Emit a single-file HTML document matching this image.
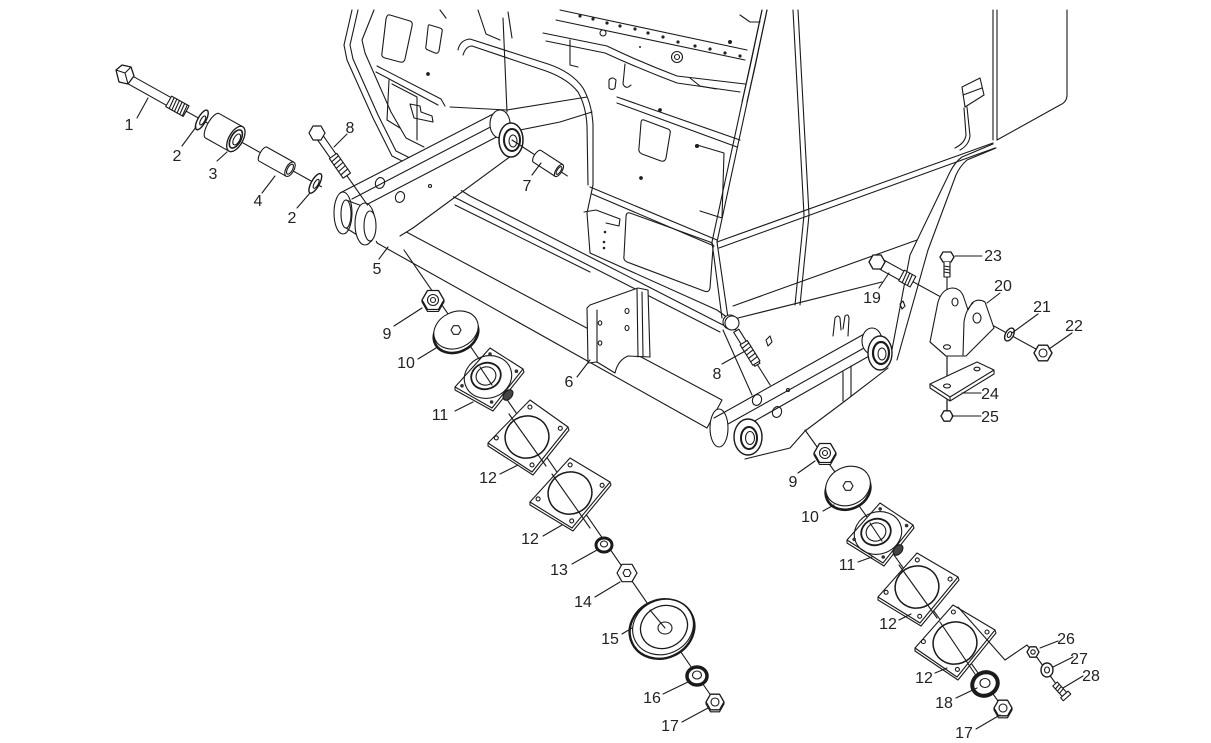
<!DOCTYPE html>
<html><head><meta charset="utf-8"><style>
html,body{margin:0;padding:0;background:#fff;}
svg{display:block}
text{font-family:"Liberation Sans",Arial,sans-serif;font-size:16px;fill:#222;text-anchor:middle}
</style></head><body>
<svg width="1211" height="743" viewBox="0 0 1211 743" xmlns="http://www.w3.org/2000/svg">
<rect width="1211" height="743" fill="#fff"/>
<g fill="none" stroke="#1a1a1a" stroke-width="1.1" stroke-linejoin="round" stroke-linecap="round">

<!-- ===== CAB BACKGROUND ===== -->
<path d="M352,10 L344,45 L347,60 L373,118 L392,156 L412,166 L440,178"/>
<path d="M358,10 L350,45 L353,59 L378,115 L396,151 L414,160"/>
<path d="M374,10 L362,40 L365,53 L391,112 L406,138 L424,147"/>
<path d="M390,15 L410,21 Q413,22 412,26 L405,59 Q404,63 400,62 L385,58 Q381,57 382,53 L386,19 Q387,14 390,15 Z"/>
<path d="M430,25 L440,28 Q443,29 442,32 L439,51 Q438,54 435,53 L428,50 Q425,49 426,46 L428,28 Q428,24 430,25 Z"/>
<path d="M377,66 L441,99 L445,106"/>
<path d="M376,72 L438,105"/>
<path d="M389,80 L387,120 L400,128"/>
<path d="M392,84 L417,97 L417,140"/>
<path d="M410,104 L420,106 L421,112 L432,116 L433,122 L414,118 Z"/>
<circle cx="428" cy="74" r="1.3" fill="#222"/>
<path d="M440,10 L446,18"/>

<path d="M458,50 Q460,40 470,39 L548,64 Q572,72 583,88 Q592,104 593,125 L593,185"/>
<path d="M463,55 Q466,46 472,46 L546,71 Q568,79 578,92 Q586,106 587,126 L588,185"/>
<path d="M503,18 L507,112"/>
<path d="M450,107 L507,110 L587,97"/>
<path d="M520,130 Q540,126 560,122 L592,112"/>
<path d="M478,10 L486,34 L500,40"/>
<path d="M508,12 L512,38"/>
<path d="M560,10 L747,50"/>
<path d="M556,20 L745,60"/>
<g fill="#222" stroke="none">
<circle cx="580" cy="16" r="1.6"/><circle cx="593" cy="19" r="1.6"/><circle cx="607" cy="23" r="1.6"/><circle cx="620" cy="26" r="1.6"/><circle cx="635" cy="29" r="1.6"/><circle cx="648" cy="33" r="1.6"/><circle cx="663" cy="37" r="1.6"/><circle cx="678" cy="42" r="1.6"/><circle cx="695" cy="46" r="1.6"/><circle cx="710" cy="49" r="1.6"/><circle cx="725" cy="53" r="1.6"/><circle cx="740" cy="56" r="1.6"/>
<circle cx="640" cy="47" r="1"/><circle cx="730" cy="42" r="2"/>
</g>
<path d="M543,33 L607,46 Q640,62 677,76 L745,84"/>
<path d="M546,41 L605,53 Q640,69 677,83 L740,92"/>
<path d="M762,10 L750,67 L742,102"/>
<path d="M767,10 L755,67 L747,102"/>
<circle cx="677" cy="57" r="5.5"/><circle cx="677" cy="57" r="2.5"/>
<circle cx="603" cy="33" r="3"/>
<path d="M609,80 Q612,76 616,80 L615,88 Q612,91 609,88 Z"/>
<path d="M570,40 L570,65 L578,67"/>
<path d="M625,64 L623,84 Q626,90 631,85"/>
<path d="M690,78 L700,86 L716,89"/>
<path d="M740,15 L750,22 L760,22"/>

<path d="M617,97 L740,140"/>
<path d="M617,103 L737,147"/>
<path d="M644,120 L668,129 Q671,130 670,134 L666,158 Q665,162 661,161 L642,154 Q638,152 639,148 L641,123 Q641,119 644,120 Z"/>
<path d="M697,145 L724,153 L722,218 L700,211"/>
<circle cx="660" cy="110" r="1.3" fill="#222"/>
<circle cx="641" cy="178" r="1.3" fill="#222"/>
<circle cx="697" cy="146" r="1.5" fill="#222"/>
<path d="M590,187 L717,240"/>
<path d="M592,194 L714,246"/>
<path d="M593,185 L587,213 L590,253 L717,310 L728,318"/>
<path d="M630,213 L710,242 Q714,244 713,248 L710,288 Q709,293 704,291 L627,262 Q623,260 624,256 L626,217 Q626,212 630,213 Z"/>
<path d="M584,212 L596,210 L620,219 L619,226 L606,223"/>
<g fill="#222" stroke="none"><circle cx="605" cy="232" r="1.3"/><circle cx="604" cy="242" r="1.3"/><circle cx="604" cy="248" r="1.3"/></g>

<path d="M767,10 L717,242 L728,318"/>
<path d="M762,10 L712,242 L722,318"/>
<path d="M793,10 L804,215 L795,305"/>
<path d="M798,10 L809,215 L800,305"/>
<path d="M993,143 L717,242"/>
<path d="M995,148 L719,248"/>
<path d="M917,240 L733,306"/>
<path d="M993,10 L993,140"/><path d="M997,10 L997,140"/>
<path d="M1067,10 L1067,95 Q1067,102 1060,105 L997,140"/>
<path d="M962,87 L980,78 L984,95 L965,107 Z"/><path d="M963,95 L982,88"/>
<path d="M964,108 L966,135 Q965,143 955,148"/>
<path d="M967,107 L970,136 Q969,145 960,150"/>
<path d="M993,144 L962,157 Q955,162 950,172 L910,255 L890,360"/>
<path d="M996,148 L967,160 Q960,166 956,175 L928,250 L897,360"/>

<path d="M440,180 Q455,186 470,196 L600,262 L723,325"/>
<path d="M452,196 L720,332"/>
<path d="M455,205 L590,272"/>
<path d="M738,318 L882,282"/>
<path d="M723,330 L752,395"/>
<path d="M833,336 L835,318 Q838,314 840,318 L841,330 M843,329 L845,316 Q848,313 849,318 L848,336"/>
<path d="M766,340 L770,336 L772,342 L768,346 Z"/>
<path d="M900,304 L903,301 L905,306 L902,309 Z"/>
<circle cx="730" cy="322" r="7" fill="#fff"/>

<!-- ===== ROD 5 ===== -->
<path d="M365,210 L722,400 L707,428 L377,243 Z" fill="#fff"/>
<ellipse cx="369" cy="226" rx="7" ry="16" fill="#fff"/>

<!-- ===== PART 6 ===== -->
<path d="M587,308 L590,305 L638,288 L648,290 L650,357 L628,356 Q618,360 615,373 L597,362 L588,363 Z" fill="#fff"/>
<path d="M597,310 L597,362"/>
<path d="M637,289 L638,357"/>
<path d="M642,292 L643,356"/>
<ellipse cx="627" cy="311" rx="2" ry="2.5"/><ellipse cx="627" cy="328" rx="2" ry="2.5"/>
<ellipse cx="600" cy="323" rx="1.8" ry="2.2"/><ellipse cx="600" cy="343" rx="1.8" ry="2.2"/>

<!-- ===== LEFT ARM ===== -->
<path d="M338,195 L497,112 L514,118 L523,140 L413,229 L385,242 L340,236 Z" fill="#fff" stroke="none"/>
<ellipse cx="343" cy="213" rx="9" ry="21" fill="#fff"/>
<ellipse cx="346" cy="214" rx="5" ry="14"/>
<path d="M346,200 L362,206 M346,228 L362,238"/>
<path d="M340,193 L497,112"/>
<path d="M352,199 L502,121"/>
<path d="M362,207 L508,131"/>
<path d="M413,228 L515,153"/>
<path d="M400,236 L413,228"/>
<ellipse cx="380" cy="183" rx="4.5" ry="5.5" transform="rotate(20 380 183)"/>
<ellipse cx="400" cy="197" rx="4.5" ry="5.5" transform="rotate(20 400 197)"/>
<circle cx="430" cy="186" r="1.5"/>
<ellipse cx="365" cy="224" rx="10" ry="21" fill="#fff"/>
<ellipse cx="370" cy="226" rx="6" ry="15" fill="#fff"/>
<ellipse cx="500" cy="124" rx="10" ry="14" fill="#fff"/>
<ellipse cx="511" cy="140" rx="12" ry="17" fill="#fff" stroke-width="1.5"/>
<ellipse cx="512" cy="140" rx="8" ry="11" stroke-width="2"/>
<ellipse cx="513" cy="141" rx="4" ry="6"/>

<!-- ===== RIGHT ARM ===== -->
<path d="M714,420 L866,333 L885,335 L893,352 L890,368 L845,402 L805,432 L792,447 L745,460 L722,455 L712,440 Z" fill="#fff" stroke="none"/>
<ellipse cx="719" cy="428" rx="9" ry="19" fill="#fff"/>
<path d="M714,418 L866,333"/>
<path d="M728,424 L873,343"/>
<path d="M737,431 L878,351"/>
<path d="M745,459 L790,448 L805,431 L845,401 L888,368"/>
<path d="M843,372 L843,401"/><path d="M851,366 L851,396"/>
<ellipse cx="757" cy="400" rx="4.5" ry="5.5" transform="rotate(20 757 400)"/>
<ellipse cx="777" cy="412" rx="4.5" ry="5.5" transform="rotate(20 777 412)"/>
<circle cx="788" cy="390" r="1.5"/>
<ellipse cx="748" cy="437" rx="14" ry="18" fill="#fff" stroke-width="1.4"/>
<ellipse cx="749" cy="438" rx="8" ry="11" stroke-width="2"/>
<ellipse cx="750" cy="438" rx="4.5" ry="6.5"/>
<ellipse cx="872" cy="341" rx="10" ry="13" fill="#fff"/>
<ellipse cx="880" cy="353" rx="12" ry="17" fill="#fff" stroke-width="1.4"/>
<ellipse cx="881" cy="353" rx="8" ry="11" stroke-width="2.2"/>
<ellipse cx="882" cy="354" rx="4" ry="6"/>

<!-- ===== LEFT UPPER EXPLODED (1,2,3,4,2) ===== -->
<g transform="translate(125,77) rotate(29.2)">
  <line x1="0" y1="0" x2="225" y2="0"/>
  <path d="M2,-4.5 L70,-4.5 L70,4.5 L2,4.5 Z" fill="#fff"/>
  <path d="M50,-6 L70,-6 L70,6 L50,6 Z" fill="#fff"/>
  <path d="M53,-6 L54,6 M56,-6 L57,6 M59,-6 L60,6 M62,-6 L63,6 M65,-6 L66,6 M68,-6 L69,6"/>
  <ellipse cx="88" cy="0" rx="4" ry="11" fill="#fff" stroke-width="1.4"/>
  <ellipse cx="89" cy="0" rx="2" ry="5"/>
  <path d="M100,-14 L127,-14 L127,14 L100,14 A5,14 0 0 1 100,-14 Z" fill="#fff"/>
  <ellipse cx="127" cy="0" rx="7" ry="14" fill="#fff" stroke-width="1.3"/>
  <ellipse cx="127" cy="0" rx="5" ry="10" stroke-width="1.6"/>
  <ellipse cx="128" cy="0" rx="3" ry="6"/>
  <path d="M158,-8 L189,-8 L189,8 L158,8 A3,8 0 0 1 158,-8 Z" fill="#fff"/>
  <ellipse cx="189" cy="0" rx="4" ry="8" fill="#fff"/>
  <ellipse cx="189" cy="0" rx="2.5" ry="5.5"/>
  <ellipse cx="218" cy="0" rx="4" ry="11" fill="#fff" stroke-width="1.4"/>
  <ellipse cx="219" cy="0" rx="2" ry="5"/>
</g>
<path d="M116,70 L122,65 L131,67 L134,76 L128,84 L119,82 Z" fill="#fff" stroke-width="1.3"/>
<path d="M116,70 L125,73 L128,84 M125,73 L131,67"/>

<!-- bolt 8 left -->
<g transform="translate(317,133) rotate(55)">
  <line x1="0" y1="0" x2="88" y2="0"/>
  <path d="M6,-3.5 L52,-3.5 L52,3.5 L6,3.5 Z" fill="#fff"/>
  <path d="M28,-4.5 L52,-4.5 L52,4.5 L28,4.5 Z" fill="#fff"/>
  <path d="M31,-4.5 L32,4.5 M35,-4.5 L36,4.5 M39,-4.5 L40,4.5 M43,-4.5 L44,4.5 M47,-4.5 L48,4.5"/>
</g>
<path d="M325,133 L321,140 L313,140 L309,133 L313,126 L321,126 Z" fill="#fff" stroke-width="1.2"/>

<!-- part 7 -->
<g transform="translate(512,140) rotate(33)">
  <line x1="0" y1="0" x2="66" y2="0"/>
  <path d="M30,-7 L56,-7 L56,7 L30,7 A3,7 0 0 1 30,-7 Z" fill="#fff"/>
  <ellipse cx="56" cy="0" rx="3" ry="7" fill="#fff"/>
  <ellipse cx="56" cy="0" rx="1.8" ry="4.5"/>
</g>

<!-- bolt 8 right -->
<g transform="translate(732,324) rotate(58)">
  <line x1="0" y1="0" x2="72" y2="0"/>
  <path d="M8,-3 L48,-3 L48,3 L8,3 Z" fill="#fff"/>
  <path d="M22,-4.2 L46,-4.2 L46,4.2 L22,4.2 Z" fill="#fff"/>
  <path d="M25,-4.2 L26,4.2 M29,-4.2 L30,4.2 M33,-4.2 L34,4.2 M37,-4.2 L38,4.2 M41,-4.2 L42,4.2"/>
</g>
<circle cx="732" cy="323" r="7" fill="#fff"/>

<!-- ===== RIGHT BRACKET AREA (19-25) ===== -->
<g transform="translate(877,262) rotate(28.7)">
  <line x1="0" y1="0" x2="189" y2="0"/>
  <path d="M4,-5 L40,-5 L40,5 L4,5 Z" fill="#fff"/>
  <path d="M28,-6 L41,-6 L41,6 L28,6 Z" fill="#fff"/>
  <path d="M31,-6 L32,6 M34,-6 L35,6 M37,-6 L38,6"/>
  <ellipse cx="151" cy="0" rx="4" ry="7" fill="#fff" stroke-width="1.4"/>
  <ellipse cx="151" cy="0" rx="1.8" ry="3.2"/>
</g>
<path d="M885,262 L881,269 L873,269 L869,262 L873,255 L881,255 Z" fill="#fff" stroke-width="1.3"/>
<line x1="947" y1="277" x2="947" y2="418"/>
<path d="M930,342 L938,302 Q942,289 952,288 Q961,288 964,298 L968,310 L972,303 Q978,298 985,302 L994,328 L966,356 L946,356 Z" fill="#fff"/>
<path d="M963,355 L964,322 Q966,309 973,303"/>
<path d="M930,342 L946,356"/>
<ellipse cx="977" cy="318" rx="4" ry="5"/>
<ellipse cx="955" cy="302" rx="3" ry="4"/>
<ellipse cx="947" cy="347" rx="3.5" ry="2.2"/>
<line x1="947" y1="356" x2="947" y2="418"/>
<path d="M940,257 L943,252 L951,252 L954,257 L951,262 L943,262 Z" fill="#fff" stroke-width="1.3"/>
<path d="M944,262 L944,277 L950,277 L950,262" fill="#fff"/>
<path d="M944,266 L950,267 M944,269 L950,270 M944,272 L950,273"/>
<path d="M1052,353 L1047.5,360.8 L1038.5,360.8 L1034,353 L1038.5,345.2 L1047.5,345.2 Z" fill="#fff" stroke-width="1.4"/>
<circle cx="1043" cy="353" r="4"/>
<path d="M930,384 L930,388 L950,401 L994,374 L994,370" fill="#fff"/>
<path d="M930,384 L977,362 L994,370 L950,397 Z" fill="#fff"/>
<path d="M950,397 L950,401"/>
<ellipse cx="947" cy="386" rx="3.5" ry="2"/>
<ellipse cx="977" cy="369" rx="3" ry="1.8"/>
<line x1="947" y1="401" x2="947" y2="410"/>
<path d="M953,416 L950,421.2 L944,421.2 L941,416 L944,410.8 L950,410.8 Z" fill="#fff" stroke-width="1.3"/>

<!-- ===== LEFT STACK ===== -->
<line x1="404" y1="250" x2="716" y2="703"/>
<path d="M444,302 L438.5,311.5 L427.5,311.5 L422,302 L422,300 L444,300 Z" fill="#fff"/>
<path d="M444,300 L438.5,309.5 L427.5,309.5 L422,300 L427.5,290.5 L438.5,290.5 Z" fill="#fff" stroke-width="1.3"/>
<circle cx="433" cy="300" r="5.5"/><circle cx="433" cy="300" r="2.5"/>
<ellipse cx="456" cy="334" rx="23" ry="18" transform="rotate(-25 456 334)" fill="#fff" stroke-width="2.6"/>
<ellipse cx="456" cy="330" rx="23" ry="18" transform="rotate(-25 456 330)" fill="#fff"/>
<path d="M461,330 L458.5,334.3 L453.5,334.3 L451,330 L453.5,325.7 L458.5,325.7 Z"/>
<path d="M523,369 L524,372 L493,411 L455,390 L455,387" fill="#fff"/>
<path d="M490,348 L523,369 L492,408 L455,387 Z" fill="#fff"/>
<ellipse cx="508" cy="395" rx="6" ry="4" transform="rotate(-50 508 395)" fill="#444"/>
<ellipse cx="488" cy="377" rx="24" ry="21" transform="rotate(-20 488 377)"/>
<ellipse cx="486" cy="376" rx="15" ry="13" transform="rotate(-20 486 376)" stroke-width="1.8"/>
<ellipse cx="486" cy="376" rx="10" ry="9" transform="rotate(-20 486 376)" fill="#fff"/>
<line x1="480" y1="367" x2="492" y2="385"/>
<g fill="#333" stroke="none"><circle cx="490" cy="354" r="1.8"/><circle cx="516.4" cy="371.2" r="1.8"/><circle cx="491.6" cy="402" r="1.8"/><circle cx="462" cy="385.8" r="1.8"/></g>
<path d="M568,427 L569,430 L533,475 L488,446 L488,443" fill="#fff"/>
<path d="M530,400 L568,427 L532,472 L488,443 Z" fill="#fff"/>
<ellipse cx="527" cy="437" rx="22" ry="21" transform="rotate(-20 527 437)" stroke-width="1.5"/>
<line x1="509" y1="414" x2="546" y2="466"/>
<g fill="none"><circle cx="529.9" cy="407.1" r="2"/><circle cx="560.3" cy="428.3" r="2"/><circle cx="532" cy="464.9" r="2"/><circle cx="496.3" cy="437.9" r="2"/></g>
<path d="M610,482 L611,485 L573,531 L530,505 L530,502" fill="#fff"/>
<path d="M570,458 L610,482 L572,528 L530,502 Z" fill="#fff"/>
<ellipse cx="570" cy="493" rx="22" ry="21" transform="rotate(-20 570 493)" stroke-width="1.5"/>
<line x1="552" y1="474" x2="590" y2="528"/>
<g fill="none"><circle cx="570.1" cy="464.9" r="2"/><circle cx="602.1" cy="485.3" r="2"/><circle cx="571.7" cy="520.9" r="2"/><circle cx="538.1" cy="498.9" r="2"/></g>
<ellipse cx="604" cy="545" rx="8" ry="7" fill="#fff" stroke-width="3"/>
<ellipse cx="604" cy="544" rx="3.5" ry="3"/>
<path d="M637,573 L632,581.7 L622,581.7 L617,573 L622,564.3 L632,564.3 Z" fill="#fff" stroke-width="1.2"/>
<path d="M631,573 L629,576.5 L625,576.5 L623,573 L625,569.5 L629,569.5 Z"/>
<ellipse cx="662" cy="629" rx="33" ry="29" transform="rotate(-25 662 629)" fill="#fff" stroke-width="2.4"/>
<ellipse cx="663" cy="627" rx="31" ry="27" transform="rotate(-25 663 627)" fill="#fff"/>
<ellipse cx="664" cy="627" rx="24" ry="21" transform="rotate(-25 664 627)" stroke-width="1.3"/>
<ellipse cx="665" cy="628" rx="7" ry="6"/>
<line x1="650" y1="610" x2="665" y2="628"/>
<ellipse cx="697" cy="676" rx="10" ry="9" fill="#fff" stroke-width="3.5"/>
<ellipse cx="697" cy="675" rx="4.5" ry="4"/>
<path d="M724,704 L719.5,711.8 L710.5,711.8 L706,704 L706,702 L724,702 Z" fill="#fff"/>
<path d="M724,702 L719.5,709.8 L710.5,709.8 L706,702 L710.5,694.2 L719.5,694.2 Z" fill="#fff" stroke-width="1.3"/>
<circle cx="715" cy="702" r="4"/>

<!-- ===== RIGHT STACK ===== -->
<line x1="805" y1="430" x2="1003" y2="708"/>
<path d="M836,455 L830.5,464.5 L819.5,464.5 L814,455 L814,453 L836,453 Z" fill="#fff"/>
<path d="M836,453 L830.5,462.5 L819.5,462.5 L814,453 L819.5,443.5 L830.5,443.5 Z" fill="#fff" stroke-width="1.3"/>
<circle cx="825" cy="453" r="5.5"/><circle cx="825" cy="453" r="2.5"/>
<ellipse cx="848" cy="490" rx="23" ry="19" transform="rotate(-25 848 490)" fill="#fff" stroke-width="2.6"/>
<ellipse cx="848" cy="486" rx="23" ry="19" transform="rotate(-25 848 486)" fill="#fff"/>
<path d="M853,486 L850.5,490.3 L845.5,490.3 L843,486 L845.5,481.7 L850.5,481.7 Z"/>
<path d="M913,525 L914,528 L884,566 L847,543 L847,540" fill="#fff"/>
<path d="M880,503 L913,525 L883,563 L847,540 Z" fill="#fff"/>
<ellipse cx="898" cy="550" rx="6" ry="4" transform="rotate(-50 898 550)" fill="#444"/>
<ellipse cx="878" cy="533" rx="24" ry="21" transform="rotate(-20 878 533)"/>
<ellipse cx="876" cy="532" rx="15" ry="13" transform="rotate(-20 876 532)" stroke-width="1.8"/>
<ellipse cx="876" cy="532" rx="10" ry="9" transform="rotate(-20 876 532)" fill="#fff"/>
<line x1="870" y1="523" x2="882" y2="541"/>
<g fill="#333" stroke="none"><circle cx="880.2" cy="508.9" r="1.8"/><circle cx="906.6" cy="525.6" r="1.8"/><circle cx="883.2" cy="557" r="1.8"/><circle cx="854.2" cy="539.4" r="1.8"/></g>
<path d="M958,577 L959,580 L921,626 L878,600 L878,597" fill="#fff"/>
<path d="M917,553 L958,577 L920,623 L878,597 Z" fill="#fff"/>
<ellipse cx="917" cy="587" rx="22" ry="21" transform="rotate(-20 917 587)" stroke-width="1.5"/>
<line x1="899" y1="565" x2="937" y2="618"/>
<g fill="none"><circle cx="917.3" cy="559.9" r="2"/><circle cx="950.1" cy="579.1" r="2"/><circle cx="919.7" cy="616.3" r="2"/><circle cx="886.1" cy="592.3" r="2"/></g>
<path d="M995,630 L996,633 L958,680 L915,651 L915,648" fill="#fff"/>
<path d="M953,605 L995,630 L957,677 L915,648 Z" fill="#fff"/>
<ellipse cx="955" cy="643" rx="22" ry="21" transform="rotate(-20 955 643)" stroke-width="1.5"/>
<line x1="940" y1="622" x2="975" y2="674"/>
<g fill="none"><circle cx="953.4" cy="612" r="2"/><circle cx="987" cy="632" r="2"/><circle cx="957.4" cy="669.4" r="2"/><circle cx="923.4" cy="641.6" r="2"/></g>
<ellipse cx="985" cy="684" rx="13" ry="11.5" transform="rotate(-25 985 684)" fill="#fff" stroke-width="4"/>
<ellipse cx="985" cy="683" rx="5" ry="4.5"/>
<path d="M1012,710 L1007.5,717.8 L998.5,717.8 L994,710 L994,708 L1012,708 Z" fill="#fff"/>
<path d="M1012,708 L1007.5,715.8 L998.5,715.8 L994,708 L998.5,700.2 L1007.5,700.2 Z" fill="#fff" stroke-width="1.3"/>
<circle cx="1003" cy="708" r="4"/>
<path d="M958,607 L1005,660 L1027,645 L1033,652 L1064,695"/>
<path d="M1039,652 L1036,657.2 L1030,657.2 L1027,652 L1030,646.8 L1036,646.8 Z" fill="#fff" stroke-width="1.3"/>
<circle cx="1033" cy="652" r="2.2"/>
<ellipse cx="1047" cy="670" rx="6" ry="7" fill="#fff" stroke-width="1.4"/>
<ellipse cx="1047" cy="670" rx="2.5" ry="3"/>
<g transform="translate(1055,684) rotate(48)">
  <path d="M0,-3 L14,-3 L14,3 L0,3 Z" fill="#fff"/>
  <path d="M3,-3 L4,3 M6,-3 L7,3 M9,-3 L10,3"/>
  <path d="M14,-5 L18,-5 L18,5 L14,5 Z" fill="#fff"/>
</g>

<!-- ===== LEADER LINES ===== -->
<path d="M137,118 L148,98"/>
<path d="M182,146 L196,127"/>
<path d="M217,161 L227,152"/>
<path d="M262,193 L275,176"/>
<path d="M297,208 L310,193"/>
<path d="M347,134 L334,147"/>
<path d="M532,175 L541,163"/>
<path d="M379,259 L388,247"/>
<path d="M394,326 L422,308"/>
<path d="M418,359 L436,348"/>
<path d="M455,411 L473,402"/>
<path d="M500,474 L518,465"/>
<path d="M543,536 L562,525"/>
<path d="M572,564 L597,550"/>
<path d="M595,597 L620,582"/>
<path d="M622,634 L632,628"/>
<path d="M663,694 L688,682"/>
<path d="M682,722 L708,708"/>
<path d="M577,377 L590,360"/>
<path d="M722,364 L747,350"/>
<path d="M798,473 L815,461"/>
<path d="M823,511 L834,505"/>
<path d="M858,562 L872,557"/>
<path d="M899,620 L911,614"/>
<path d="M935,673 L947,668"/>
<path d="M956,698 L977,688"/>
<path d="M976,729 L1000,715"/>
<path d="M1040,648 L1058,641"/>
<path d="M1053,667 L1073,657"/>
<path d="M1063,688 L1083,676"/>
<path d="M962,393 L981,393"/>
<path d="M952,416 L981,416"/>
<path d="M955,256 L982,256"/>
<path d="M1000,293 L987,303"/>
<path d="M1038,314 L1012,333"/>
<path d="M1072,333 L1049,349"/>
<path d="M879,288 L889,273"/>
</g>

<!-- ===== LABELS ===== -->
<text x="129" y="130">1</text>
<text x="177" y="161">2</text>
<text x="213" y="179">3</text>
<text x="258" y="206">4</text>
<text x="292" y="223">2</text>
<text x="350" y="133">8</text>
<text x="527" y="191">7</text>
<text x="377" y="274">5</text>
<text x="387" y="339">9</text>
<text x="406" y="368">10</text>
<text x="569" y="387">6</text>
<text x="440" y="420">11</text>
<text x="488" y="483">12</text>
<text x="530" y="544">12</text>
<text x="559" y="575">13</text>
<text x="583" y="607">14</text>
<text x="610" y="644">15</text>
<text x="652" y="703">16</text>
<text x="670" y="731">17</text>
<text x="717" y="379">8</text>
<text x="793" y="487">9</text>
<text x="810" y="522">10</text>
<text x="847" y="570">11</text>
<text x="888" y="629">12</text>
<text x="924" y="683">12</text>
<text x="944" y="708">18</text>
<text x="964" y="738">17</text>
<text x="872" y="303">19</text>
<text x="1003" y="291">20</text>
<text x="1042" y="312">21</text>
<text x="1074" y="331">22</text>
<text x="993" y="261">23</text>
<text x="990" y="399">24</text>
<text x="990" y="422">25</text>
<text x="1066" y="644">26</text>
<text x="1079" y="664">27</text>
<text x="1091" y="681">28</text>
</svg>
</body></html>
